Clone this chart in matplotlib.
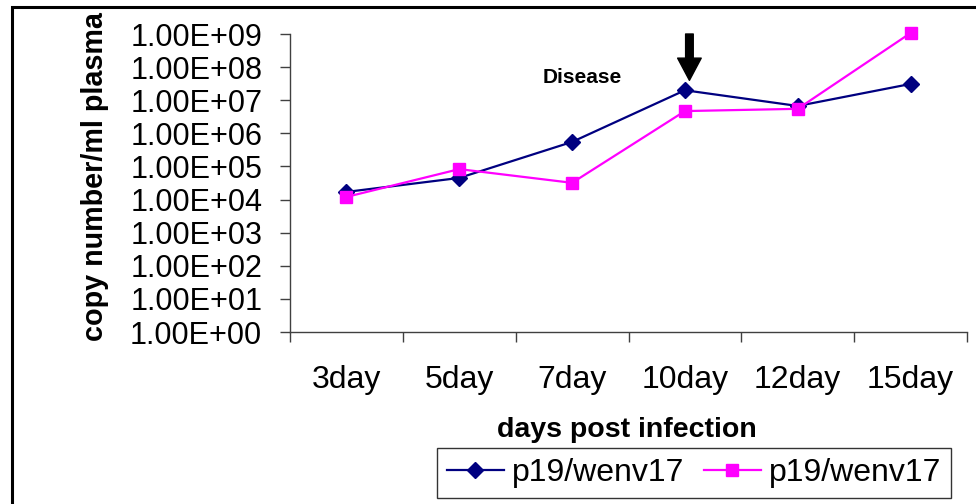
import matplotlib
matplotlib.use("Agg")
import matplotlib.pyplot as plt
import numpy as np
from matplotlib.patches import Rectangle
from matplotlib.ticker import FixedLocator, NullLocator

plt.rcParams['font.family'] = ['Liberation Sans', 'DejaVu Sans']

days = ["3day", "5day", "7day", "10day", "12day", "15day"]
blue_vals = [1.7e4, 4.5e4, 5.5e5, 2.0e7, 6.7e6, 3.1e7]
pink_vals = [1.2e4, 8.3e4, 3.2e4, 4.7e6, 5.5e6, 1.07e9]
series_names = ["p19/wenv17", "p19/wenv17"]
y_ticks = [10.0 ** k for k in range(0, 10)]
y_ticklabels = ["1.00E+%02d" % k for k in range(0, 10)]

W, H = 976, 504
fig = plt.figure(figsize=(W / 100, H / 100), dpi=100)
ax = fig.add_axes([290 / W, 1 - 332 / H, 677 / W, 298 / H])

x = np.arange(len(days))
ax.plot(x, blue_vals, color="#000080", lw=1.6, marker="D", ms=8,
        label=series_names[0], clip_on=False, zorder=3)
ax.plot(x, pink_vals, color="#FF00FF", lw=1.6, marker="s", ms=9,
        label=series_names[1], clip_on=False, zorder=3)

ax.set_yscale("log")
ax.set_ylim(1, 1e9)
ax.set_xlim(-0.5, len(days) - 0.5)
ax.yaxis.set_major_locator(FixedLocator(y_ticks))
ax.yaxis.set_minor_locator(NullLocator())
ax.set_yticklabels(y_ticklabels, fontsize=22)
ax.set_xticks(np.arange(len(days) + 1) - 0.5)
ax.set_xticklabels([])
ax.set_xticks(x, minor=True)
ax.set_xticklabels(days, minor=True, fontsize=23)
ax.tick_params(axis="x", which="minor", length=0, pad=24)
ax.tick_params(axis="x", which="major", length=7, width=1, color="#404040")
ax.tick_params(axis="y", length=7, width=1, color="#404040", pad=13)

for s in ["top", "right"]:
    ax.spines[s].set_visible(False)
for s in ["left", "bottom"]:
    ax.spines[s].set_color("#404040")
    ax.spines[s].set_linewidth(1)

# disease onset arrow and label
ax.annotate("", xy=(3.04, 10 ** 7.6), xytext=(3.04, 1e9),
            arrowprops=dict(arrowstyle="simple,head_length=1.6,head_width=1.7,tail_width=0.55",
                            color="black", mutation_scale=10, shrinkA=0, shrinkB=0))
ax.text(2.09, 10 ** 7.7, "Disease", fontsize=15, fontweight="bold",
        ha="center", va="center")

fig.text(95 / W, 1 - 177 / H, "copy number/ml plasma", rotation=90,
         fontsize=20.7, fontweight="bold", ha="center", va="center")
fig.text(627 / W, 1 - 430 / H, "days post infection",
         fontsize=20.5, fontweight="bold", ha="center", va="center")

leg = fig.legend(loc="center", bbox_to_anchor=(694 / W, 1 - 473 / H), ncol=2,
                 fontsize=23, frameon=True, fancybox=False, handlelength=1.8,
                 handletextpad=0.25, columnspacing=0.6, borderpad=0.3,
                 edgecolor="black")
leg.get_frame().set_linewidth(1)

# chart area border (left and top visible)
fig.patches.append(Rectangle((12 / W, -0.1), 1.2, 1.1 - 7 / H, transform=fig.transFigure,
                             fill=False, lw=2.2, edgecolor="black"))

fig.savefig("out.png", dpi=100)
